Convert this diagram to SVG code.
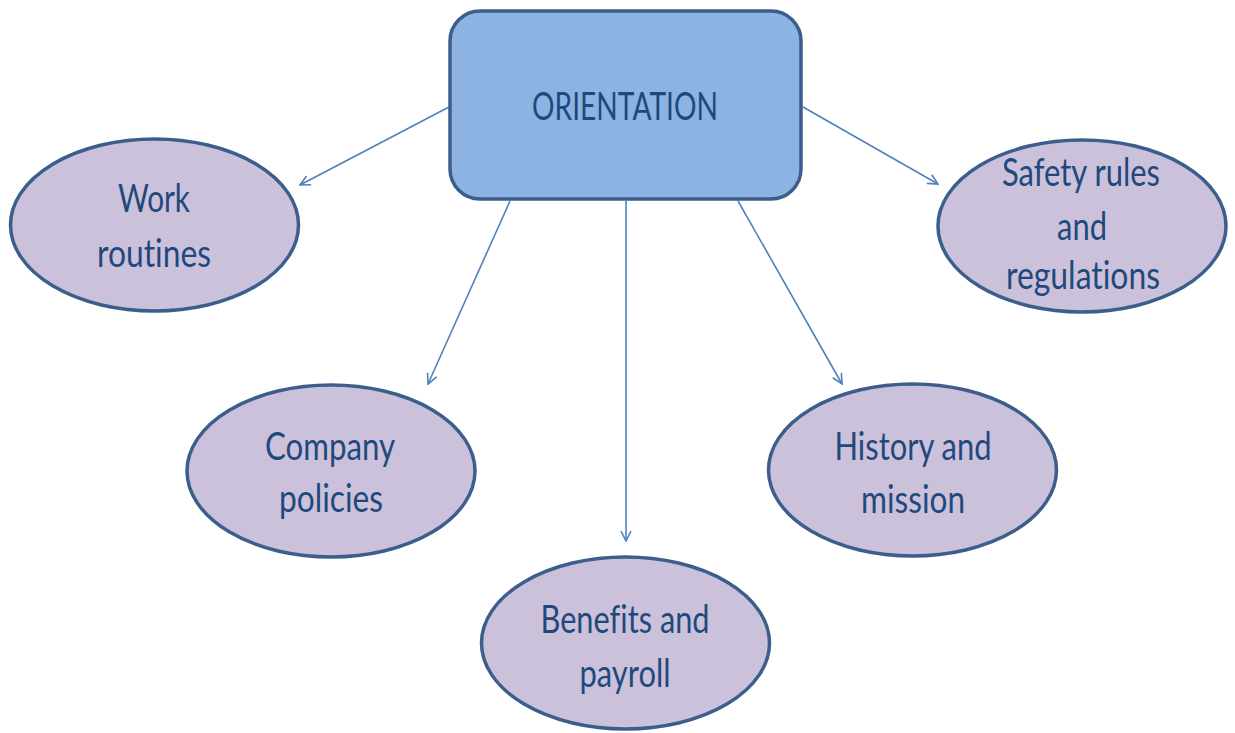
<svg xmlns="http://www.w3.org/2000/svg" width="1235" height="733" viewBox="0 0 1235 733">
<defs>
<style>
.node{fill:#CCC1DA;stroke:#3B5E8C;stroke-width:3.5}
.root{fill:#8DB3E2;stroke:#3B5E8C;stroke-width:3.5}
.t{font-family:Lato,"Open Sans","Liberation Sans",sans-serif;font-size:38px;fill:#1F497D;text-anchor:middle;font-variant-ligatures:none;font-feature-settings:"liga" 0}
.c{stroke:#4F81BD;stroke-width:1.6;fill:none;marker-end:url(#ah)}
</style>
<marker id="ah" viewBox="0 0 12 12" refX="11" refY="6" markerWidth="12" markerHeight="12" markerUnits="userSpaceOnUse" orient="auto">
<path d="M1,1 L11,6 L1,11" fill="none" stroke="#4F81BD" stroke-width="1.6"/>
</marker>
</defs>
<rect width="1235" height="733" fill="#FFFFFF"/>
<g id="connectors">
<line class="c" x1="449" y1="107" x2="300" y2="185"/>
<line class="c" x1="510" y1="201" x2="428" y2="384"/>
<line class="c" x1="626" y1="201" x2="626" y2="541"/>
<line class="c" x1="738" y1="201" x2="842" y2="384"/>
<line class="c" x1="803" y1="107" x2="938" y2="184"/>
</g>
<g id="orientation">
<rect class="root" x="450" y="11" width="351" height="188" rx="30"/>
<text class="t" x="625" y="120" textLength="186" lengthAdjust="spacingAndGlyphs">ORIENTATION</text>
</g>
<g id="work-routines">
<ellipse class="node" cx="154.5" cy="225" rx="144" ry="86"/>
<text class="t" x="154" y="212" textLength="72" lengthAdjust="spacingAndGlyphs">Work</text>
<text class="t" x="154" y="267" textLength="114" lengthAdjust="spacingAndGlyphs">routines</text>
</g>
<g id="safety-rules">
<ellipse class="node" cx="1082" cy="226" rx="144" ry="86"/>
<text class="t" x="1081" y="186" textLength="158" lengthAdjust="spacingAndGlyphs">Safety rules</text>
<text class="t" x="1082" y="240" textLength="50" lengthAdjust="spacingAndGlyphs">and</text>
<text class="t" x="1083" y="289" textLength="154" lengthAdjust="spacingAndGlyphs">regulations</text>
</g>
<g id="company-policies">
<ellipse class="node" cx="331" cy="471" rx="144" ry="86"/>
<text class="t" x="330" y="460" textLength="130" lengthAdjust="spacingAndGlyphs">Company</text>
<text class="t" x="331" y="512" textLength="104" lengthAdjust="spacingAndGlyphs">policies</text>
</g>
<g id="history-mission">
<ellipse class="node" cx="912.5" cy="470" rx="144" ry="86"/>
<text class="t" x="913" y="460" textLength="157" lengthAdjust="spacingAndGlyphs">History and</text>
<text class="t" x="913" y="513" textLength="104" lengthAdjust="spacingAndGlyphs">mission</text>
</g>
<g id="benefits-payroll">
<ellipse class="node" cx="625.5" cy="643" rx="144" ry="86"/>
<text class="t" x="625" y="633" textLength="169" lengthAdjust="spacingAndGlyphs">Benefits and</text>
<text class="t" x="625" y="687" textLength="91" lengthAdjust="spacingAndGlyphs">payroll</text>
</g>
</svg>
